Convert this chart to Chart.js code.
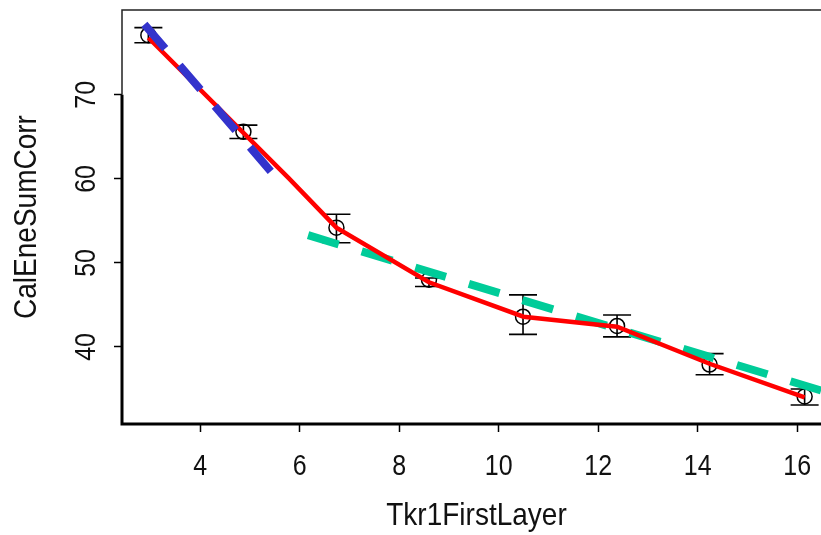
<!DOCTYPE html>
<html>
<head>
<meta charset="utf-8">
<script src="https://cdn.jsdelivr.net/npm/chart.js@4/dist/chart.umd.min.js"></script>
<style>
html,body{margin:0;padding:0;background:#fff;overflow:hidden;}
#wrap{width:840px;height:535px;}
</style>
</head>
<body>
<div id="wrap"><canvas id="c" width="840" height="535"></canvas></div>
<script>
// Binned means of CalEneSumCorr vs Tkr1FirstLayer, with error bars
const layerX  = [2.96, 4.87, 6.74, 8.60, 10.49, 12.38, 14.24, 16.15];
const meanY   = [77.1, 65.6, 54.2, 48.0, 43.6, 42.5, 37.9, 34.1];
const errLow  = [76.2, 64.8, 52.4, 47.2, 41.5, 41.2, 36.7, 33.1];
const errHigh = [78.0, 66.4, 55.8, 48.2, 46.2, 43.8, 39.2, 35.0];

// Profile curve (red)
const curveX = [2.96, 5.78, 6.74, 8.60, 10.50, 12.38, 14.24, 16.15];
const curveY = [76.8, 60.1, 54.2, 47.7, 43.6, 42.4, 38.0, 34.0];

// Linear fits: steep part (blue) and shallow part (green)
const steepFitX   = [2.88, 5.42];
const steepFitY   = [78.4, 60.9];
const shallowFitX = [6.17, 16.6];
const shallowFitY = [53.3, 34.6];

const xTicks = [4, 6, 8, 10, 12, 14, 16];
const yTicks = [40, 50, 60, 70];

const xTitle = 'Tkr1FirstLayer';
const yTitle = 'CalEneSumCorr';

const FONT = '"Liberation Sans", Arial, sans-serif';
const INK = '#111';

const toXY = (xs, ys) => xs.map((v, i) => ({ x: v, y: ys[i] }));

// text with slightly tall glyphs, optionally rotated
function tallText(ctx, str, x, y, size, stretch, rot) {
  ctx.save();
  ctx.translate(x, y);
  if (rot) ctx.rotate(rot);
  ctx.scale(1, stretch);
  ctx.font = size + 'px ' + FONT;
  ctx.fillText(str, 0, 0);
  ctx.restore();
}

const decor = {
  id: 'decor',
  beforeDatasetsDraw(chart) {
    const { ctx, scales: { x, y } } = chart;
    ctx.save();
    ctx.strokeStyle = '#000';
    ctx.lineWidth = 1.6;
    const cap = 14;
    layerX.forEach((v, i) => {
      const px = x.getPixelForValue(v);
      const pt = y.getPixelForValue(errHigh[i]);
      const pb = y.getPixelForValue(errLow[i]);
      ctx.beginPath();
      ctx.moveTo(px, pt); ctx.lineTo(px, pb);
      ctx.moveTo(px - cap, pt); ctx.lineTo(px + cap, pt);
      ctx.moveTo(px - cap, pb); ctx.lineTo(px + cap, pb);
      ctx.stroke();
    });
    ctx.restore();
  },
  afterDraw(chart) {
    const { ctx, chartArea: a, scales: { x, y } } = chart;
    ctx.save();
    // box
    ctx.strokeStyle = '#222';
    ctx.lineWidth = 1.5;
    const yTop = y.getPixelForValue(yTicks[yTicks.length - 1]);
    ctx.beginPath();
    ctx.moveTo(a.right, a.top); ctx.lineTo(a.left, a.top); ctx.lineTo(a.left, yTop);
    ctx.stroke();
    ctx.strokeStyle = '#000';
    ctx.lineWidth = 3;
    ctx.beginPath();
    ctx.moveTo(a.left, yTop); ctx.lineTo(a.left, a.bottom); ctx.lineTo(a.right, a.bottom);
    ctx.stroke();

    ctx.fillStyle = INK;
    ctx.textAlign = 'center';
    ctx.textBaseline = 'middle';

    // tick labels
    yTicks.forEach(v => {
      tallText(ctx, String(v), 87, y.getPixelForValue(v), 25, 1.18, -Math.PI / 2);
    });
    xTicks.forEach(v => {
      tallText(ctx, String(v), x.getPixelForValue(v), 467, 25, 1.18, 0);
    });

    // axis titles
    tallText(ctx, yTitle, 28, (a.top + a.bottom) / 2, 28, 1.1, -Math.PI / 2);
    tallText(ctx, xTitle, (a.left + a.right) / 2, 517, 28, 1.1, 0);
    ctx.restore();
  }
};

new Chart(document.getElementById('c'), {
  type: 'line',
  data: {
    datasets: [
      {
        data: toXY(steepFitX, steepFitY),
        borderColor: 'rgb(51,51,204)', borderWidth: 8,
        borderDash: [32, 22], borderCapStyle: 'butt',
        pointRadius: 0, order: 0
      },
      {
        data: toXY(curveX, curveY),
        borderColor: '#ff0000', borderWidth: 4.5,
        pointRadius: 0, order: 1
      },
      {
        data: toXY(shallowFitX, shallowFitY),
        borderColor: 'rgb(0,204,153)', borderWidth: 8,
        borderDash: [32, 24], borderCapStyle: 'butt',
        pointRadius: 0, order: 2
      },
      {
        data: toXY(layerX, meanY),
        showLine: false,
        pointStyle: 'circle', pointRadius: 7.5,
        pointBorderWidth: 1.5, pointBorderColor: '#000',
        pointBackgroundColor: 'rgba(0,0,0,0)',
        order: 3
      }
    ]
  },
  options: {
    responsive: false,
    devicePixelRatio: 1,
    animation: false,
    layout: { padding: { top: 10, right: 0, left: 0, bottom: 0 } },
    plugins: { legend: { display: false }, tooltip: { enabled: false } },
    scales: {
      x: {
        type: 'linear', min: 2.43, max: 16.68,
        afterBuildTicks: s => { s.ticks = xTicks.map(v => ({ value: v })); },
        afterFit: s => { s.height = 111; s.paddingLeft = 0; s.paddingRight = 0; },
        grid: { drawOnChartArea: false, drawTicks: true, tickLength: 8, tickColor: '#000', tickWidth: 1.5 },
        border: { display: false },
        ticks: { color: 'rgba(0,0,0,0)', font: { family: FONT, size: 10 }, maxRotation: 0, autoSkip: false }
      },
      y: {
        type: 'linear', min: 30.83, max: 80.1,
        afterBuildTicks: s => { s.ticks = yTicks.map(v => ({ value: v })); },
        afterFit: s => { s.width = 122; s.paddingTop = 0; s.paddingBottom = 0; },
        grid: { drawOnChartArea: false, drawTicks: true, tickLength: 8, tickColor: '#000', tickWidth: 1.5 },
        border: { display: false },
        ticks: { color: 'rgba(0,0,0,0)', font: { family: FONT, size: 10 } }
      }
    }
  },
  plugins: [decor]
});
</script>
</body>
</html>
